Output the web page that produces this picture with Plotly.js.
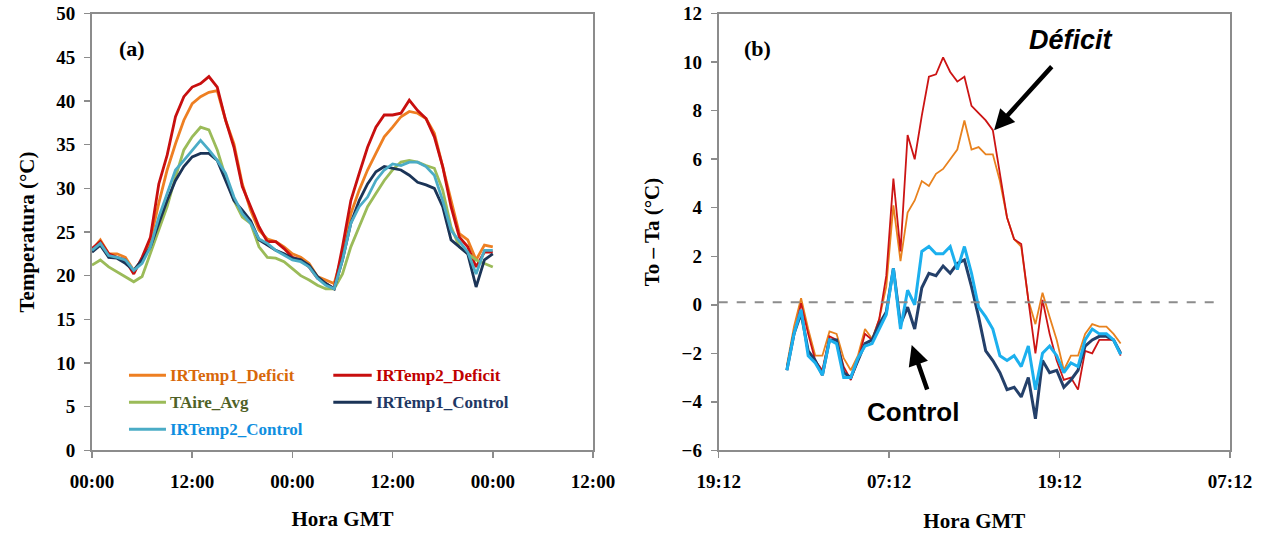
<!DOCTYPE html>
<html>
<head>
<meta charset="utf-8">
<script src="https://cdn.plot.ly/plotly-3.0.1.min.js"></script>
<style>html,body{margin:0;padding:0;background:#fff;}#chart{width:1267px;height:535px;}</style>
</head>
<body>
<div id="chart"></div>
<script>
// ---------- Panel (a): temperaturas ----------
const horasA = [0,1,2,3,4,5,6,7,8,9,10,11,12,13,14,15,16,17,18,19,20,21,22,23,24,
  25,26,27,28,29,30,31,32,33,34,35,36,37,38,39,40,41,42,43,44,45,46,47,48];
const irt1Def = [22.9,24.1,22.5,22.5,22.1,20.6,21.8,24.1,28.3,32.1,35.1,37.8,39.7,40.5,41.0,41.2,37.8,35.1,30.5,27.5,25.2,24.2,23.9,23.3,22.5,
  22.1,21.4,19.9,19.5,19.1,22.5,27.1,29.8,32.1,34.0,35.9,37.0,38.2,38.8,38.6,38.0,36.3,32.5,28.6,24.8,24.1,21.8,23.5,23.3];
const irt2Def = [23.1,23.9,22.5,22.1,21.8,20.2,22.1,24.4,30.5,33.8,38.2,40.5,41.6,42.0,42.8,41.6,37.8,34.7,30.2,27.9,25.6,23.9,23.9,23.1,22.1,
  21.8,21.0,19.7,19.1,18.5,23.3,28.6,31.7,34.7,37.0,38.4,38.4,38.6,40.1,38.9,38.0,35.9,32.5,27.9,24.4,23.3,21.0,22.7,22.7];
const tAire = [21.2,21.8,21.0,20.4,19.9,19.3,19.9,22.5,25.2,27.9,31.3,34.4,35.9,37.0,36.7,34.4,31.3,28.6,26.7,26.0,23.3,22.1,22.0,21.6,20.8,
  20.0,19.5,18.9,18.5,18.5,20.2,23.3,25.6,27.9,29.4,30.9,32.1,33.0,33.2,33.0,32.6,32.3,29.8,25.6,23.3,22.5,21.8,21.4,21.0];
const irt1Ctl = [22.7,23.5,22.1,22.0,21.4,20.6,21.8,23.3,26.0,28.6,30.9,32.5,33.6,34.0,34.0,33.2,30.9,28.6,27.5,26.3,24.1,23.5,22.9,22.5,22.0,
  21.8,21.2,19.9,19.1,18.5,21.8,26.0,28.6,30.5,31.9,32.5,32.3,32.1,31.5,30.7,30.4,30.0,27.9,24.1,23.3,22.5,18.7,21.8,22.5];
const irt2Ctl = [22.9,23.7,22.3,22.1,21.8,20.6,21.4,23.3,26.7,29.4,32.1,33.2,34.4,35.5,34.4,33.2,31.7,29.0,27.1,26.0,24.2,23.7,22.9,22.3,21.8,
  21.6,21.0,19.7,18.9,18.5,21.8,26.0,27.9,29.0,30.9,32.1,32.8,32.6,33.0,33.0,32.5,31.5,28.6,25.2,23.9,22.7,20.2,22.9,22.9];
const ticksA = [0,12,24,36,48,60];
const ticksAtxt = ['00:00','12:00','00:00','12:00','00:00','12:00'];

// ---------- Panel (b): To - Ta ----------
const horasB = [0,0.5,1,1.5,2,2.5,3,3.5,4,4.5,5,5.5,6,6.5,7,7.5,8,8.5,9,9.5,10,10.5,11,11.5,12,
  12.5,13,13.5,14,14.5,15,15.5,16,16.5,17,17.5,18,18.5,19,19.5,20,20.5,21,21.5,22,22.5,23,23.5];
const dIrt2Def = [-2.6,-1.2,0.06,-1.2,-2.3,-2.7,-1.3,-1.45,-2.55,-3.1,-2.3,-1.2,-1.45,-0.6,1.2,5.2,2.2,7.0,6.0,7.8,9.4,9.5,10.2,9.6,9.2,
  9.4,8.2,7.9,7.6,7.2,5.4,3.6,2.7,2.5,0.2,-2.0,0.2,-1.2,-2.3,-3.1,-3.0,-3.5,-1.9,-2.0,-1.45,-1.45,-1.45,-2.1];
const dIrt1Def = [-2.5,-0.9,0.27,-1.0,-2.1,-2.1,-1.1,-1.2,-2.2,-2.7,-2.1,-1.0,-1.4,-0.6,0.75,4.1,1.8,3.8,4.3,5.1,4.9,5.4,5.6,6.0,6.4,
  7.6,6.4,6.5,6.2,6.2,5.1,3.6,2.7,2.4,0.2,-0.8,0.5,-0.5,-1.45,-2.7,-2.1,-2.1,-1.2,-0.8,-0.9,-0.9,-1.2,-1.6];
const dIrt1Ctl = [-2.7,-1.2,-0.35,-1.9,-2.3,-2.9,-1.45,-1.45,-2.8,-3.0,-2.3,-1.6,-1.45,-0.8,-0.3,1.5,-0.8,-0.1,-1.0,0.7,1.3,1.2,1.6,1.3,1.7,
  1.85,0.75,-0.5,-1.9,-2.3,-2.8,-3.5,-3.4,-3.8,-3.0,-4.7,-2.3,-2.8,-2.7,-3.4,-3.1,-2.7,-1.7,-1.45,-1.3,-1.3,-1.45,-2.0];
const dIrt2Ctl = [-2.7,-1.2,-0.2,-2.1,-2.4,-2.9,-1.45,-1.6,-3.0,-3.0,-2.2,-1.7,-1.6,-1.0,-0.4,1.5,-1.0,0.6,0.0,2.2,2.4,2.1,2.1,2.4,1.45,
  2.4,1.3,-0.1,-0.5,-1.0,-2.1,-2.3,-2.1,-2.55,-1.7,-3.5,-2.0,-1.7,-2.1,-2.8,-2.4,-2.55,-1.45,-1.0,-1.2,-1.2,-1.45,-2.05];
const ticksB = [-4.8,7.2,19.2,31.2];
const ticksBtxt = ['19:12','07:12','19:12','07:12'];
const lineaCero = 0.1;

// ---------- Legend names / colours ----------
const nombres = ['IRTemp1_Deficit','IRTemp2_Deficit','TAire_Avg','IRTemp1_Control','IRTemp2_Control'];
const colLinea = ['#EE7F22','#C80F0F','#9BBB59','#1B3457','#4BACC6'];
const colTexto = ['#D8680A','#C00000','#4F6228','#1F3864','#0F8FE0'];
const colB = {def2:'#CC1414', def1:'#E8821E', ctl1:'#24406A', ctl2:'#1CB0EE'};

const serif = 'Liberation Serif, Times New Roman, serif';
const sans = 'Liberation Sans, Arial, sans-serif';

const seriesA = [irt1Def, irt2Def, tAire, irt1Ctl, irt2Ctl];
const traces = seriesA.map((ys,i)=>({
  x: horasA, y: ys, type:'scatter', mode:'lines', name: nombres[i],
  line:{color: colLinea[i], width: 2.8}, xaxis:'x', yaxis:'y', showlegend:false
}));
traces.push({x:horasB,y:dIrt1Def,type:'scatter',mode:'lines',name:'IRTemp1_Deficit',line:{color:colB.def1,width:1.8},xaxis:'x2',yaxis:'y2',showlegend:false});
traces.push({x:horasB,y:dIrt2Def,type:'scatter',mode:'lines',name:'IRTemp2_Deficit',line:{color:colB.def2,width:1.8},xaxis:'x2',yaxis:'y2',showlegend:false});
traces.push({x:horasB,y:dIrt1Ctl,type:'scatter',mode:'lines',name:'IRTemp1_Control',line:{color:colB.ctl1,width:3},xaxis:'x2',yaxis:'y2',showlegend:false});
traces.push({x:horasB,y:dIrt2Ctl,type:'scatter',mode:'lines',name:'IRTemp2_Control',line:{color:colB.ctl2,width:3},xaxis:'x2',yaxis:'y2',showlegend:false});

const tickFont = {family: serif, size: 19, color:'#000', weight:'bold'};
const titleFont = {family: serif, size: 21, color:'#000', weight:'bold'};
const axisCommon = {showline:true, mirror:true, linecolor:'#8c8c8c', linewidth:2, ticks:'outside',
  ticklen:6, tickwidth:1.5, tickcolor:'#8c8c8c', showgrid:false, zeroline:false, tickfont: tickFont, automargin:false};

// manual legend
const legPos = [[4.43,8.86,9.1,8.6],[28.9,33.5,33.8,8.6],[4.43,8.86,9.1,5.5],[28.9,33.5,33.8,5.5],[4.43,8.86,9.1,2.4]];
const shapes = [];
const annotations = [];
legPos.forEach((p,i)=>{
  shapes.push({type:'line', xref:'x', yref:'y', x0:p[0], x1:p[1], y0:p[3], y1:p[3], line:{color:colLinea[i], width:3}});
  annotations.push({xref:'x', yref:'y', x:p[2], y:p[3], text:nombres[i], showarrow:false, xanchor:'left', yanchor:'middle',
    font:{family:serif, size:17, color:colTexto[i], weight:'bold'}});
});
shapes.push({type:'line', xref:'x2', yref:'y2', x0:-4.8, x1:30.3, y0:lineaCero, y1:lineaCero, line:{color:'#8c8c8c', width:2, dash:'dash'}});

annotations.push({xref:'x', yref:'y', x:4.8, y:46.0, text:'(a)', showarrow:false, font:{family:serif,size:22,color:'#000',weight:'bold'}});
annotations.push({xref:'x2', yref:'y2', x:-2.05, y:10.58, text:'(b)', showarrow:false, font:{family:serif,size:22,color:'#000',weight:'bold'}});
annotations.push({xref:'x2', yref:'y2', x:19.98, y:10.9, text:'<i>Déficit</i>', showarrow:false, font:{family:sans,size:27,color:'#000',weight:'bold'}});
annotations.push({xref:'x2', yref:'y2', x:8.86, y:-4.42, text:'Control', showarrow:false, font:{family:sans,size:26,color:'#000',weight:'bold'}});
annotations.push({xref:'x2', yref:'y2', x:14.59, y:7.2, ax:59, ay:-65, text:'', showarrow:true, arrowhead:2, arrowsize:0.9, arrowwidth:4.5, arrowcolor:'#000'});
annotations.push({xref:'x2', yref:'y2', x:8.79, y:-1.66, ax:16, ay:46, text:'', showarrow:true, arrowhead:2, arrowsize:0.9, arrowwidth:4.5, arrowcolor:'#000'});

const layout = {
  width:1267, height:535, margin:{l:0,r:0,t:0,b:0}, paper_bgcolor:'#fff', plot_bgcolor:'#fff',
  showlegend:false,
  xaxis: Object.assign({}, axisCommon, {domain:[0.07261,0.46803], range:[0,60], tickvals:ticksA, ticktext:ticksAtxt,
    ticklabelstandoff:7, title:{text:'Hora GMT', font:titleFont, standoff:20}, anchor:'y'}),
  yaxis: Object.assign({}, axisCommon, {domain:[0.15832,0.97439], range:[0,50], dtick:5, tick0:0,
    ticklabelstandoff:5, title:{text:'Temperatura (°C)', font:titleFont, standoff:16}, anchor:'x'}),
  xaxis2: Object.assign({}, axisCommon, {domain:[0.56725,0.97080], range:[-4.8,31.2], tickvals:ticksB, ticktext:ticksBtxt,
    ticklabelstandoff:7, title:{text:'Hora GMT', font:titleFont, standoff:22}, anchor:'y2'}),
  yaxis2: Object.assign({}, axisCommon, {domain:[0.15832,0.97439], range:[-6,12], dtick:2, tick0:0,
    ticklabelstandoff:5, title:{text:'To – Ta (°C)', font:titleFont, standoff:16}, anchor:'x2'}),
  shapes: shapes, annotations: annotations
};
Plotly.newPlot('chart', traces, layout, {displayModeBar:false, staticPlot:true});
</script>
</body>
</html>
